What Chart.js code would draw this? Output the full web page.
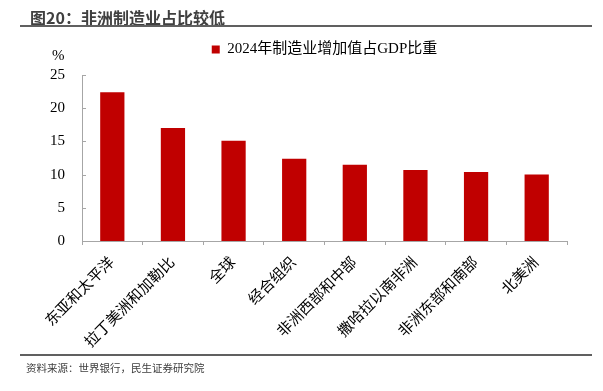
<!DOCTYPE html>
<html>
<head>
<meta charset="utf-8">
<script src="https://cdn.jsdelivr.net/npm/chart.js@4.4.0/dist/chart.umd.min.js"></script>
<style>
  body { margin: 0; background: #fff; }
  #wrap { position: relative; width: 603px; height: 391px; overflow: hidden; }
  #chart { position: absolute; left: 0; top: 0; }
  .title { position: absolute; left: 30px; top: 5px; font: bold 16px 'Noto Sans CJK SC', sans-serif; color: #404040; }
  .rule { position: absolute; left: 20px; width: 572px; height: 2px; background: #606060; }
  .unit { position: absolute; left: 52px; top: 47px; font: 15px 'Liberation Serif', serif; color: #000; }
  .source { position: absolute; left: 26px; top: 360px; font: 10.5px 'Noto Sans CJK SC', sans-serif; color: #404040; }
</style>
</head>
<body>
<div id="wrap">
  <canvas id="chart" width="603" height="391"></canvas>
  <div class="title">图20：非洲制造业占比较低</div>
  <div class="rule" style="top:25px"></div>
  <div class="unit">%</div>
  <div class="rule" style="top:354px"></div>
  <div class="source">资料来源：世界银行，民生证券研究院</div>
</div>
<script>
const regions = ['东亚和太平洋', '拉丁美洲和加勒比', '全球', '经合组织', '非洲西部和中部', '撒哈拉以南非洲', '非洲东部和南部', '北美洲'];
const shareOfGdp = [22.4, 17.0, 15.1, 12.4, 11.5, 10.7, 10.4, 10.0];
const seriesName = '2024年制造业增加值占GDP比重';
const yTicks = [0, 5, 10, 15, 20, 25];

const serif = "'Liberation Serif', 'Noto Sans CJK SC', serif";
const axisGray = '#a6a6a6';

// y-axis ticks in the reference point into the plot area
const innerTicks = {
  id: 'innerTicks',
  afterDraw(chart) {
    const y = chart.scales.y;
    const ctx = chart.ctx;
    ctx.save();
    ctx.strokeStyle = axisGray;
    ctx.lineWidth = 1;
    yTicks.forEach(v => {
      const py = Math.round(y.getPixelForValue(v)) + 0.5;
      ctx.beginPath();
      ctx.moveTo(y.right, py);
      ctx.lineTo(y.right + 4, py);
      ctx.stroke();
    });
    ctx.restore();
  }
};

// leave a bit more room under the legend
const legendGap = {
  id: 'legendGap',
  beforeLayout(chart) {
    const lg = chart.legend;
    if (lg && !lg._gapPatched) {
      const fit = lg.fit.bind(lg);
      lg.fit = function () { fit(); this.height += 8; };
      lg._gapPatched = true;
    }
  }
};

new Chart(document.getElementById('chart'), {
  type: 'bar',
  data: {
    labels: regions,
    datasets: [{
      label: seriesName,
      data: shareOfGdp,
      backgroundColor: '#c00000',
      barPercentage: 0.4,
      categoryPercentage: 1
    }]
  },
  options: {
    responsive: false,
    animation: false,
    layout: { padding: { top: 32, right: 36, bottom: 0, left: 0 } },
    plugins: {
      legend: {
        fullSize: false,
        labels: {
          boxWidth: 8,
          boxHeight: 8,
          padding: 10,
          color: '#000',
          font: { family: serif, size: 15 }
        }
      },
      tooltip: { enabled: false }
    },
    scales: {
      x: {
        afterFit: s => { s.height = 150; },
        border: { color: axisGray },
        grid: { offset: true, drawOnChartArea: false, tickLength: 4, color: axisGray },
        ticks: {
          minRotation: 45,
          maxRotation: 45,
          padding: 9,
          color: '#000',
          font: { family: serif, size: 15 }
        }
      },
      y: {
        min: 0,
        max: 25,
        afterFit: s => { s.width = 82; },
        afterBuildTicks: s => { s.ticks = yTicks.map(v => ({ value: v })); },
        border: { color: axisGray },
        grid: { display: false },
        ticks: {
          padding: 9,
          color: '#000',
          font: { family: serif, size: 15 }
        }
      }
    }
  },
  plugins: [innerTicks, legendGap]
});
</script>
</body>
</html>
